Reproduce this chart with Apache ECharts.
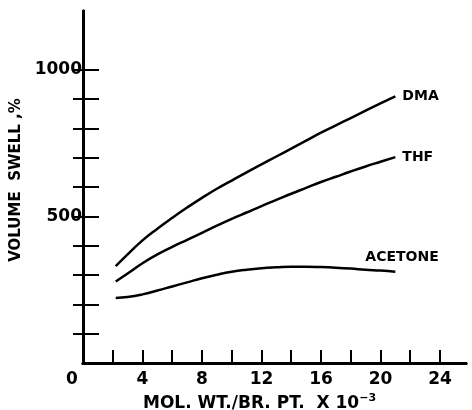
<!DOCTYPE html>
<html>
<head>
<meta charset="utf-8">
<script src="https://cdn.jsdelivr.net/npm/echarts@6/dist/echarts.min.js"></script>
<style>
html, body { margin: 0; padding: 0; background: #fff; }
#chart { width: 472px; height: 410px; }
</style>
</head>
<body>
<div id="chart"></div>
<script>
// values: [mol. wt. / br. pt. x 10^-3, volume swell %]
var dma = [[2.2, 330], [3, 370], [4, 418], [5, 458], [6, 495], [7, 530], [8, 563], [9, 594], [10, 622], [11, 650],
    [12, 677], [13, 704], [14, 731], [15, 758], [16, 785], [17, 810], [18, 835], [19, 860], [20, 885], [21, 909]];
var thf = [[2.2, 278], [3, 305], [4, 340], [5, 370], [6, 396], [7, 420], [8, 444], [9, 468], [10, 491], [11, 513],
    [12, 535], [13, 556], [14, 577], [15, 597], [16, 617], [17, 635], [18, 653], [19, 670], [20, 686], [21, 702]];
var acetone = [[2.2, 222], [3, 225], [4, 234], [5, 247], [6, 261], [7, 275], [8, 289], [9, 301], [10, 311], [11, 318],
    [12, 323], [13, 326], [14, 328], [15, 328], [16, 327], [17, 325], [18, 322], [19, 318], [20, 315], [21, 311]];

var xLabels = [0, 4, 8, 12, 16, 20, 24];
var xTicks = [2, 4, 6, 8, 10, 12, 14, 16, 18, 20, 22, 24];
var yLabels = [500, 1000];
var yTicks = [100, 200, 300, 400, 500, 600, 700, 800, 900, 1000];

var font = 'DejaVu Sans';
var axisLine = { lineStyle: { color: '#000', width: 3 } };

var chart = echarts.init(document.getElementById('chart'));

function curve(name, data, labelOffset) {
    return {
        name: name,
        type: 'line',
        data: data,
        smooth: true,
        symbol: 'none',
        lineStyle: { color: '#000', width: 2.5 },
        endLabel: {
            show: true,
            formatter: name,
            distance: 7,
            offset: labelOffset,
            color: '#000',
            fontFamily: font,
            fontWeight: 'bold',
            fontSize: 14
        }
    };
}

option = {
    animation: false,
    backgroundColor: '#fff',
    grid: { left: 83, right: 6, top: 11, bottom: 47, outerBoundsMode: 'none' },
    xAxis: [{
        type: 'value',
        min: 0,
        max: 25.75,
        name: '{a|MOL. WT./BR. PT.  X 10}{s|−3}',
        nameLocation: 'middle',
        nameGap: 21,
        nameTextStyle: {
            padding: [0, 30, 0, 0],
            rich: {
                a: { fontFamily: font, fontWeight: 'bold', fontSize: 17, color: '#000' },
                s: { fontFamily: font, fontWeight: 'bold', fontSize: 11, color: '#000', padding: [0, 0, 10, 0] }
            }
        },
        axisLine: axisLine,
        splitLine: { show: false },
        axisTick: { inside: true, length: 13, customValues: xTicks, lineStyle: { color: '#000', width: 2 } },
        axisLabel: {
            customValues: xLabels,
            margin: 8,
            formatter: function (v) { return v === 0 ? '{z|0}' : '' + v; },
            color: '#000',
            fontFamily: font,
            fontWeight: 'bold',
            fontSize: 17,
            rich: {
                z: { fontFamily: font, fontWeight: 'bold', fontSize: 17, color: '#000', padding: [0, 22, 0, 0] }
            }
        }
    }, {
        type: 'value',
        position: 'top',
        min: 0,
        max: 25.75,
        axisLine: axisLine,
        axisTick: { show: false },
        axisLabel: { show: false },
        splitLine: { show: false }
    }],
    yAxis: [{
        type: 'value',
        min: 0,
        max: 1200,
        name: 'VOLUME  SWELL ,%',
        nameLocation: 'middle',
        nameGap: 56,
        nameTextStyle: { fontFamily: font, fontWeight: 'bold', fontSize: 15, color: '#000', padding: [0, 0, 0, 14] },
        axisLine: axisLine,
        splitLine: { show: false },
        axisTick: { inside: true, length: 16, customValues: yTicks, lineStyle: { color: '#000', width: 2 } },
        axisLabel: {
            customValues: yLabels,
            margin: 1,
            formatter: function (v) { return '' + v; },
            color: '#000',
            fontFamily: font,
            fontWeight: 'bold',
            fontSize: 17
        }
    }, {
        type: 'value',
        position: 'right',
        min: 0,
        max: 1200,
        axisLine: axisLine,
        splitLine: { show: false },
        axisTick: { inside: true, length: 10, customValues: yTicks, lineStyle: { color: '#000', width: 2 } },
        axisLabel: { show: false }
    }],
    series: [
        curve('DMA', dma, [0, 0]),
        curve('THF', thf, [0, 0]),
        curve('ACETONE', acetone, [-37, -14])
    ]
};

chart.setOption(option);
</script>
</body>
</html>
